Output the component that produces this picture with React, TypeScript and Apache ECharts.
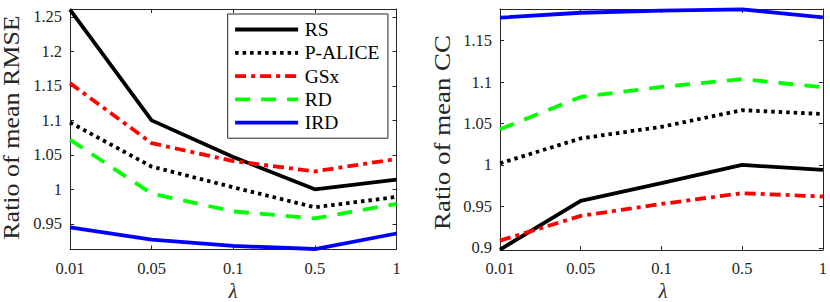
import React, { useEffect, useRef } from "react";
import * as echarts from "echarts";

const lambdaCats = ["0.01", "0.05", "0.1", "0.5", "1"];
const seriesNames = ["RS", "P-ALICE", "GSx", "RD", "IRD"];

// Ratio of mean RMSE (left panel)
const rmseRS = [1.2606, 1.1, 1.047, 1.0, 1.014];
const rmsePALICE = [1.097, 1.033, 1.003, 0.974, 0.989];
const rmseGSx = [1.154, 1.067, 1.041, 1.026, 1.044];
const rmseRD = [1.072, 0.994, 0.968, 0.958, 0.979];
const rmseIRD = [0.945, 0.927, 0.918, 0.9135, 0.936];
const rmseTicks = [0.95, 1, 1.05, 1.1, 1.15, 1.2, 1.25];

// Ratio of mean CC (right panel)
const ccRS = [0.898, 0.9566, 0.978, 1.0, 0.994];
const ccPALICE = [1.002, 1.032, 1.046, 1.066, 1.0614];
const ccGSx = [0.9088, 0.9386, 0.953, 0.966, 0.962];
const ccRD = [1.043, 1.082, 1.094, 1.1036, 1.0936];
const ccIRD = [1.1775, 1.1835, 1.186, 1.1876, 1.178];
const ccTicks = [0.9, 0.95, 1, 1.05, 1.1, 1.15];

const SERIF = "'Liberation Serif', 'Times New Roman', serif";
const AXIS_COLOR = "#262626";
const LINE_W = 3.8;

const styles = [
  { color: "#000000", type: "solid" as any },
  { color: "#000000", type: [3.5, 4] as any },
  { color: "#ff0000", type: [11, 5, 4, 5] as any },
  { color: "#00ff00", type: [15, 11] as any },
  { color: "#0000ff", type: "solid" as any },
];

function makeSeries(values: number[][], xIdx: number, yIdx: number) {
  return values.map((v, i) => ({
    name: seriesNames[i],
    type: "line",
    xAxisIndex: xIdx,
    yAxisIndex: yIdx,
    data: v,
    symbol: "none",
    showSymbol: false,
    lineStyle: {
      color: styles[i].color,
      width: LINE_W,
      type: styles[i].type,
      cap: "butt",
    },
    itemStyle: { color: styles[i].color },
  }));
}

function catAxis(gridIndex: number, position: "bottom" | "top", labels: boolean) {
  return {
    type: "category",
    gridIndex,
    position,
    data: lambdaCats,
    boundaryGap: false,
    axisLine: { show: true, onZero: false, lineStyle: { color: AXIS_COLOR, width: 1 } },
    axisTick: { show: true, inside: true, length: 4, alignWithLabel: true, lineStyle: { color: AXIS_COLOR } },
    axisLabel: {
      show: labels,
      margin: 10,
      fontSize: 16.5,
      fontFamily: SERIF,
      color: AXIS_COLOR,
    },
    splitLine: { show: false },
  };
}

function valAxis(
  gridIndex: number,
  position: "left" | "right",
  labels: boolean,
  min: number,
  max: number,
  ticks: number[]
) {
  return {
    type: "value",
    gridIndex,
    position,
    min,
    max,
    axisLine: { show: true, onZero: false, lineStyle: { color: AXIS_COLOR, width: 1 } },
    axisTick: {
      show: true,
      inside: true,
      length: 4,
      customValues: ticks,
      lineStyle: { color: AXIS_COLOR },
    },
    axisLabel: {
      show: labels,
      customValues: ticks,
      margin: 8,
      fontSize: 16.5,
      fontFamily: SERIF,
      color: AXIS_COLOR,
    },
    splitLine: { show: false },
  };
}

export default function App() {
  const ref = useRef<HTMLDivElement>(null);
  useEffect(() => {
    if (!ref.current) return;
    const chart = echarts.init(ref.current, undefined, { renderer: "svg" });
    chart.setOption({
      animation: false,
      backgroundColor: "#ffffff",
      grid: [
        { left: 70, top: 9, width: 326.5, height: 240.5 },
        { left: 500, top: 9, width: 325, height: 241 },
      ],
      xAxis: [
        catAxis(0, "bottom", true),
        catAxis(0, "top", false),
        catAxis(1, "bottom", true),
        catAxis(1, "top", false),
      ],
      yAxis: [
        valAxis(0, "left", true, 0.9128, 1.2615, rmseTicks),
        valAxis(0, "right", false, 0.9128, 1.2615, rmseTicks),
        valAxis(1, "left", true, 0.8975, 1.188, ccTicks),
        valAxis(1, "right", false, 0.8975, 1.188, ccTicks),
      ],
      legend: {
        data: seriesNames,
        orient: "vertical",
        left: 227.7,
        top: 14,
        itemWidth: 63,
        itemHeight: 14,
        itemGap: 3.3,
        padding: [5.5, 8.5, 5.5, 5.5],
        borderColor: AXIS_COLOR,
        borderWidth: 1,
        backgroundColor: "#ffffff",
        itemStyle: { color: "rgba(0,0,0,0)", borderWidth: 0, opacity: 0 },
        lineStyle: { width: LINE_W },
        textStyle: { fontSize: 19.5, fontFamily: SERIF, color: "#000000", padding: [0, 0, 0, 1.6] },
        selectedMode: false,
        z: 10,
      },
      graphic: [
        {
          type: "text",
          x: 11.5,
          y: 127.5,
          rotation: Math.PI / 2,
          scaleX: 1.13,
          style: {
            text: "Ratio of mean RMSE",
            fontSize: 23,
            fontFamily: SERIF,
            fill: AXIS_COLOR,
            align: "center",
            verticalAlign: "middle",
          },
        },
        {
          type: "text",
          x: 442,
          y: 132.5,
          rotation: Math.PI / 2,
          scaleX: 1.17,
          style: {
            text: "Ratio of mean CC",
            fontSize: 23,
            fontFamily: SERIF,
            fill: AXIS_COLOR,
            align: "center",
            verticalAlign: "middle",
          },
        },
        {
          type: "text",
          x: 233,
          y: 290.5,
          style: {
            text: "λ",
            fontSize: 20,
            fontStyle: "italic",
            fontFamily: SERIF,
            fill: AXIS_COLOR,
            align: "center",
            verticalAlign: "middle",
          },
        },
        {
          type: "text",
          x: 663,
          y: 290.5,
          style: {
            text: "λ",
            fontSize: 20,
            fontStyle: "italic",
            fontFamily: SERIF,
            fill: AXIS_COLOR,
            align: "center",
            verticalAlign: "middle",
          },
        },
      ],
      series: [
        ...makeSeries([rmseRS, rmsePALICE, rmseGSx, rmseRD, rmseIRD], 0, 0),
        ...makeSeries([ccRS, ccPALICE, ccGSx, ccRD, ccIRD], 2, 2),
      ],
    });
    return () => chart.dispose();
  }, []);
  return (
    <div
      ref={ref}
      style={{ position: "absolute", left: 0, top: 0, width: 830, height: 302, background: "#fff" }}
    />
  );
}
